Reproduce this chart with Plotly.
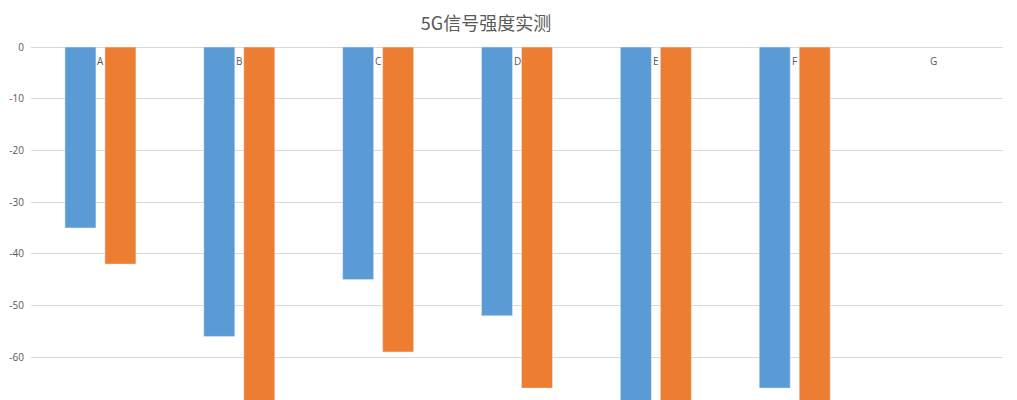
import plotly.graph_objects as go

categories = ["A", "B", "C", "D", "E", "F", "G"]
series1 = [-35, -56, -45, -52, -72, -66, None]
series2 = [-42, -70, -59, -66, -75, -73, None]
y_ticks = [0, -10, -20, -30, -40, -50, -60]

fig = go.Figure()
fig.add_trace(go.Bar(x=categories, y=series1, name="系列1", marker_color="#5B9BD5"))
fig.add_trace(go.Bar(x=categories, y=series2, name="系列2", marker_color="#ED7D31"))

for c in categories:
    fig.add_annotation(x=c, y=0, xref="x", yref="y", text=c, showarrow=False,
                       yanchor="middle", yshift=-14,
                       font=dict(size=10, color="#595959", family="Open Sans"))

fig.update_layout(
    width=1017, height=400,
    margin=dict(l=31, r=14, t=45, b=0),
    paper_bgcolor="white", plot_bgcolor="white",
    barmode="group", bargap=0.424, bargroupgap=0.225,
    showlegend=False,
    font=dict(family="Noto Sans CJK SC, Open Sans, sans-serif", color="#595959"),
    title=dict(text="5G信号强度实测", x=486/1017, xanchor="center", xref="container",
               y=1 - 24/400, yanchor="middle",
               font=dict(size=18, color="#595959", family="Noto Sans CJK SC")),
)
fig.update_xaxes(showticklabels=False, ticks="", showgrid=False, showline=False)
fig.update_yaxes(range=[-68.3, 0.4], tickvals=y_ticks, ticktext=[str(v) for v in y_ticks],
                 showgrid=True, gridcolor="#D9D9D9", gridwidth=1,
                 zeroline=True, zerolinecolor="#D9D9D9", zerolinewidth=1,
                 tickfont=dict(size=10, color="#595959", family="Open Sans"), ticks="",
                 ticklabelstandoff=6)

fig.write_html("out.html")
